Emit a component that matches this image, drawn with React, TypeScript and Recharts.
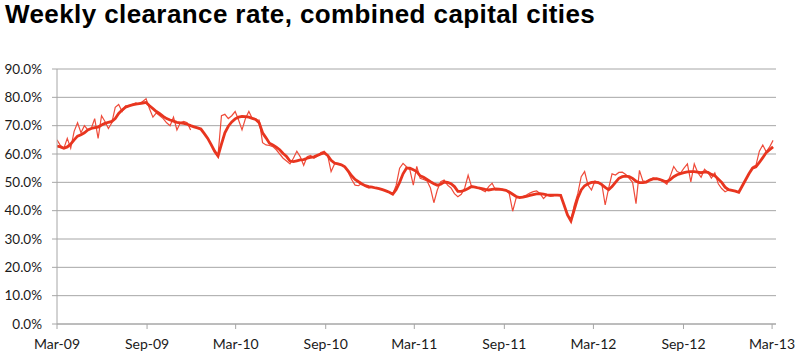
import { LineChart, Line, XAxis, YAxis, CartesianGrid } from 'recharts';

// weekly values, one per week from the start of Mar-09; null = no auction weeks over Christmas
const weeklyRate = [
  65, 63, 62, 65.5, 62, 68, 71, 67.5, 70, 68.5,
  69, 72.5, 65.5, 73.5, 71.5, 69, 71, 76.5, 77.5, 75,
  77, 77, 77.5, 78, 77.5, 78.5, 79.5, 76, 73, 74.5,
  73.5, 72.5, 71, 70, 73, 68.5, 71, 71.5, 71, 68.5,
  null, null, null, null, null, null, null, 59.5, 73.5, 74,
  72.5, 73.5, 75, 72, 68.5, 72.5, 75, 72.5, 72, 72,
  64, 63.2, 63, 62.6, 61.5, 60, 58.5, 57.5, 56.5, 58.5,
  61, 59, 56, 59, 59.5, 58.5, 59.3, 60.5, 61, 59.5,
  53.8, 56.5, 56.7, 56.2, 55.6, 53.5, 51, 49, 48.8, 49.7,
  48.5, 48, 48.3, null, null, null, null, null, 45.8, 49,
  55, 56.7, 55.5, 54.4, 49, 55.6, 51.4, 51, 50.5, 48,
  42.8, 47.3, 50.2, 50.8, 49, 48, 46, 44.9, 45.8, 48,
  52.5, 48.5, 48.5, 48, 47.3, 46.7, 48.5, 49.7, 47.3, 47.3,
  47.5, 47.3, 46, 39.8, 44.4, 44.9, 45, 45.5, 46.2, 46.7,
  47, 46, 44.3, 45.5, 45, 45.2, null, null, null, null,
  36.3, 42, 46, 52, 53.8, 49, 47.3, 50.5, 50, 49.5,
  42, 47.9, 53, 52.6, 53.5, 53.6, 52.8, 51.4, 50, 42.5,
  54.2, 50.5, 50.3, 51, 51.6, 51.2, 50.8, 50.2, 49.3, 52.2,
  55.6, 53.8, 53.3, 55, 56.5, 50.2, 56.5, 53.5, 51.8, 54.6,
  53.5, 51.5, 53.3, 49.5, 47.8, 46.7, 47.3, null, null, null,
  null, null, null, 55.5, 56, 61, 63.2, 60.8, 62.5, 64.8,
];

// smoothed (thick) series, same weeks
const smoothedRate = [
  62.8, 62.5, 62, 62.5, 63.5, 65, 66.3, 66.8, 67.5, 68.5,
  69, 69.3, 69.5, 70.2, 70.8, 71.2, 71.5, 72.5, 74.3, 75.5,
  76.5, 77, 77.3, 77.6, 77.8, 78, 78.2, 77, 76, 75,
  74.2, 73.3, 72.5, 72, 71.6, 71.2, 71, 70.8, 70.5, 70,
  69.6, 69.2, 68.8, 67.2, 65.5, 63.3, 61, 59.3, 63.5, 67.5,
  69.8, 71.3, 72.4, 73, 73.3, 73.2, 73, 72.6, 72.2, 71,
  67.5, 65.7, 63.8, 63.2, 62.4, 61.5, 60.2, 59.1, 57.5, 57.3,
  57.6, 57.9, 58, 58.5, 58.8, 59, 59.5, 60, 60.4, 59.5,
  57.8, 56.8, 56.5, 56.2, 55.5, 54, 52.3, 51, 50.2, 49.4,
  48.8, 48.5, 48.3, 48, 47.8, 47.4, 47, 46.5, 45.8, 47.5,
  50, 53, 55, 55, 54.4, 53.8, 52.3, 51.8, 51, 50.2,
  49.5, 49, 49.3, 50.1, 50, 49.5, 48.5, 46.8, 46.8, 47.2,
  47.8, 48.5, 48.3, 48, 47.8, 47.5, 47.3, 47.5, 47.7, 47.6,
  47.4, 47.2, 46.6, 45.8, 45, 44.6, 44.8, 45, 45.4, 45.7,
  45.9, 46, 45.8, 45.6, 45.5, 45.5, 45.5, 45.4, 42, 38.5,
  36.4, 40.5, 44.5, 47.3, 48.8, 49.5, 50, 50.1, 49.9, 49.2,
  48.2, 47.4, 48.5, 50, 51.4, 52, 52.2, 52, 51.4, 50.4,
  49.9, 49.9, 50.1, 50.8, 51.2, 51.3, 51, 50.5, 50.2, 51,
  52, 52.7, 53.1, 53.4, 53.7, 53.8, 53.8, 53.6, 53.4, 53.7,
  53.5, 52.8, 52.3, 51.2, 50, 48.3, 47.4, 47.2, 46.9, 46.5,
  48.7, 50.9, 53.1, 55, 55.5, 57, 58.7, 60.5, 61.5, 62.5,
];

// axis ticks, in days since 1 Mar 2009
const tickDays = [0, 184, 365, 549, 730, 914, 1096, 1280, 1461];
const tickLabels = ['Mar-09', 'Sep-09', 'Mar-10', 'Sep-10', 'Mar-11', 'Sep-11', 'Mar-12', 'Sep-12', 'Mar-13'];
const yTicks = [0, 10, 20, 30, 40, 50, 60, 70, 80, 90];

const weekly = weeklyRate.map((v, i) => ({ day: i * 7, v }));
const smoothed = smoothedRate.map((v, i) => ({ day: i * 7, v }));

const labelFont = 'Lato, sans-serif';

export default function App() {
  return (
    <div style={{ position: 'absolute', left: 0, top: 0, width: 800, height: 361, background: '#fff' }}>
      <div style={{
        position: 'absolute', left: 5, top: 2, fontFamily: '"Liberation Sans", Arial, sans-serif',
        fontWeight: 700, fontSize: 26, lineHeight: '25px', letterSpacing: 0.4, color: '#000', whiteSpace: 'nowrap',
      }}>
        Weekly clearance rate, combined capital cities
      </div>
      <LineChart width={800} height={361} margin={{ top: 69, right: 24, left: 8, bottom: 7 }}>
        <CartesianGrid vertical={false} stroke="#a6a6a6" strokeWidth={1} />
        <XAxis type="number" dataKey="day" domain={[0, 1469]} ticks={tickDays} allowDataOverflow
          tickFormatter={(d: number) => tickLabels[tickDays.indexOf(d)]}
          tick={{ fontSize: 14, fill: '#1a1a1a', fontFamily: labelFont }} tickSize={5} tickMargin={10} height={30}
          axisLine={{ stroke: '#a6a6a6' }} tickLine={{ stroke: '#a6a6a6' }} />
        <YAxis type="number" domain={[0, 90]} ticks={yTicks} width={49}
          tickFormatter={(v: number) => `${v.toFixed(1)}%`}
          tick={{ fontSize: 13.5, fill: '#1a1a1a', fontFamily: labelFont }} tickSize={5} tickMargin={10}
          axisLine={{ stroke: '#a6a6a6' }} tickLine={{ stroke: '#a6a6a6' }} />
        <Line data={weekly} dataKey="v" type="linear" stroke="#ef4b3a" strokeWidth={1.2}
          dot={false} connectNulls={false} isAnimationActive={false} />
        <Line data={smoothed} dataKey="v" type="linear" stroke="#e8351f" strokeWidth={2.8}
          dot={false} isAnimationActive={false} />
      </LineChart>
    </div>
  );
}
